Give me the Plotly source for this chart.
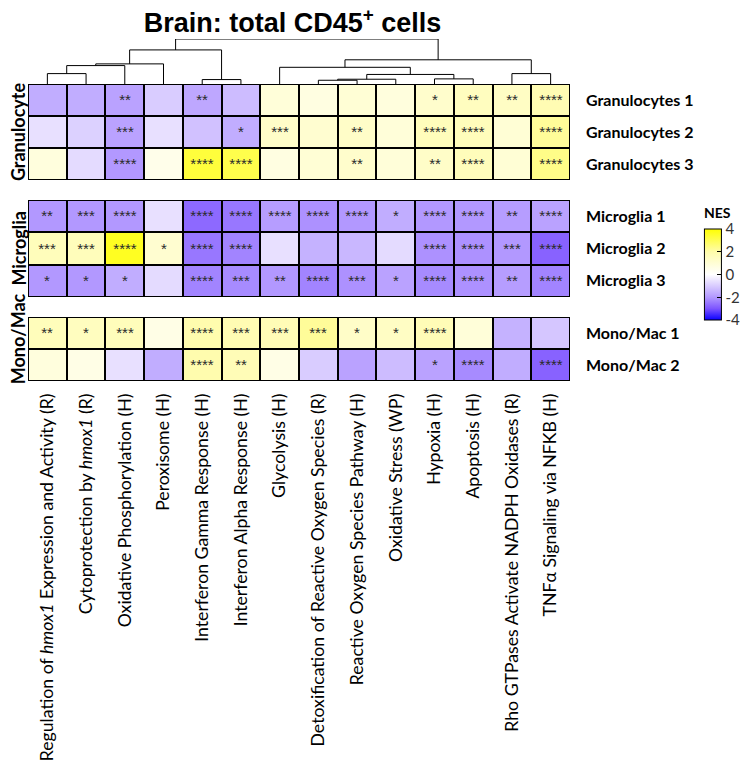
import plotly.graph_objects as go

# ---------------- data ----------------
pathways = [
    "Regulation of <i>hmox1</i> Expression and Activity (R)",
    "Cytoprotection by <i>hmox1</i> (R)",
    "Oxidative Phosphorylation (H)",
    "Peroxisome (H)",
    "Interferon Gamma Response (H)",
    "Interferon Alpha Response (H)",
    "Glycolysis (H)",
    "Detoxification of Reactive Oxygen Species (R)",
    "Reactive Oxygen Species Pathway (H)",
    "Oxidative Stress (WP)",
    "Hypoxia (H)",
    "Apoptosis (H)",
    "Rho GTPases Activate NADPH Oxidases (R)",
    "TNF\u03b1 Signaling via NFKB (H)",
]

group_names = ["Granulocyte", "Microglia", "Mono/Mac"]

granulocyte_rows = ["Granulocytes 1", "Granulocytes 2", "Granulocytes 3"]
granulocyte_nes = [
    [-1.6, -1.6, -1.8, -1.0, -1.7, -1.3, 0.9, 0.7, 1.0, 0.8, 1.2, 1.5, 1.4, 1.8],
    [-0.6, -0.9, -1.8, -0.6, -1.2, -1.6, 1.3, 1.1, 1.3, 0.9, 1.6, 1.6, 1.0, 2.2],
    [0.8, -0.7, -2.0, 0.5, 3.3, 3.1, 0.7, 1.0, 1.2, 0.9, 1.3, 1.6, 1.0, 2.4],
]
granulocyte_sig = [
    ["", "", "**", "", "**", "", "", "", "", "", "*", "**", "**", "****"],
    ["", "", "***", "", "", "*", "***", "", "**", "", "****", "****", "", "****"],
    ["", "", "****", "", "****", "****", "", "", "**", "", "**", "****", "", "****"],
]

microglia_rows = ["Microglia 1", "Microglia 2", "Microglia 3"]
microglia_nes = [
    [-2.0, -2.0, -2.0, -0.6, -2.7, -2.5, -1.9, -2.1, -2.0, -1.6, -2.0, -2.0, -1.9, -1.8],
    [1.6, 1.6, 3.6, 1.1, -2.5, -2.3, -0.6, -1.5, -1.4, -0.7, -2.1, -2.1, -2.0, -2.8],
    [-2.0, -2.0, -1.6, -0.7, -2.3, -2.2, -2.0, -2.3, -2.1, -1.8, -2.2, -2.1, -1.9, -2.3],
]
microglia_sig = [
    ["**", "***", "****", "", "****", "****", "****", "****", "****", "*", "****", "****", "**", "****"],
    ["***", "***", "****", "*", "****", "****", "", "", "", "", "****", "****", "***", "****"],
    ["*", "*", "*", "", "****", "***", "**", "****", "***", "*", "****", "****", "**", "****"],
]

monomac_rows = ["Mono/Mac 1", "Mono/Mac 2"]
monomac_nes = [
    [1.6, 1.5, 1.6, 0.6, 1.9, 1.8, 1.7, 2.2, 1.3, 1.4, 1.7, 0.9, -1.5, -1.1],
    [0.8, 0.6, -0.6, -1.6, 1.9, 1.7, 0.6, -1.0, -1.8, -1.3, -1.8, -2.2, -1.6, -2.8],
]
monomac_sig = [
    ["**", "*", "***", "", "****", "***", "***", "***", "*", "*", "****", "", "", ""],
    ["", "", "", "", "****", "**", "", "", "", "", "*", "****", "", "****"],
]

# dendrogram merges over the 14 columns (leaves 0..13, new clusters 14..)
dendro_merges = [
    (0, 1, 30.5), (14, 2, 54), (15, 3, 59), (4, 5, 13), (16, 17, 100),
    (7, 8, 11), (19, 9, 14), (10, 11, 15), (20, 21, 28), (6, 22, 49),
    (12, 13, 30.5), (23, 24, 71), (18, 25, 132),
]

cbar_ticks = [-4, -2, 0, 2, 4]

# ---------------- layout geometry ----------------
# the page has an 8px body margin; positions below are page pixels
W, H = 750, 771
OFF = 8
GRID_L, GRID_R, AREA_T, AREA_B = 28, 575, 30, 381
ML = GRID_L - OFF
MR = W - (GRID_R - OFF)
MT = AREA_T - OFF
MB = H - (AREA_B - OFF)
PW = GRID_R - GRID_L
PH = AREA_B - AREA_T


def px(x_page):
    return (x_page - GRID_L) / PW


def py(y_page):
    return (AREA_B - y_page) / PH


def ydom(top_page, bot_page):
    return [max(0.0, py(bot_page)), min(1.0, py(top_page))]


colorscale = [
    [0.0, "rgb(10,0,255)"],
    [0.125, "rgb(125,85,255)"],
    [0.25, "rgb(178,152,255)"],
    [0.5, "rgb(255,255,255)"],
    [0.75, "rgb(255,252,170)"],
    [1.0, "rgb(255,255,0)"],
]

fig = go.Figure()

groups = [
    (granulocyte_rows, granulocyte_nes, granulocyte_sig, "y", ydom(84, 180)),
    (microglia_rows, microglia_nes, microglia_sig, "y2", ydom(200, 297)),
    (monomac_rows, monomac_nes, monomac_sig, "y3", ydom(317, 381)),
]

label_font = dict(family="Lato, Carlito, Calibri, sans-serif", size=16, color="black")

for gi, (rows, nes, sig, yname, dom) in enumerate(groups):
    fig.add_trace(go.Heatmap(
        z=nes,
        x=list(range(len(pathways))),
        y=list(range(len(rows))),
        text=sig,
        texttemplate="%{text}",
        textfont=dict(family="Liberation Sans, Arial, sans-serif", size=15, color="#2a2a2a"),
        colorscale=colorscale,
        zmin=-4, zmax=4,
        xgap=2, ygap=2,
        showscale=(gi == 1),
        colorbar=dict(
            tickvals=cbar_ticks,
            ticktext=[str(t) for t in cbar_ticks],
            ticks="inside", ticklen=4, tickcolor="black",
            tickfont=dict(family="Lato, sans-serif", size=15, color="#333"),
            thickness=17, thicknessmode="pixels",
            len=91, lenmode="pixels",
            x=px(752), xanchor="right", xpad=0,
            y=py(274.5), yanchor="middle", ypad=0,
            outlinecolor="black", outlinewidth=1,
        ),
        xaxis="x",
        yaxis=yname,
        hoverinfo="z",
    ))
    axkey = "yaxis" if yname == "y" else "yaxis" + yname[1:]
    fig.layout[axkey] = dict(
        domain=dom,
        range=[len(rows) - 0.5, -0.5],
        tickmode="array",
        tickvals=list(range(len(rows))),
        ticktext=["<b>%s</b>" % r for r in rows],
        side="right",
        anchor="x",
        showgrid=False, zeroline=False, ticks="",
        ticklabelstandoff=15,
        tickfont=label_font,
        fixedrange=True,
    )
    # black backing / outer border
    fig.add_shape(type="rect", xref="x", yref=yname,
                  x0=-0.5, x1=len(pathways) - 0.5, y0=-0.5, y1=len(rows) - 0.5,
                  fillcolor="black", line=dict(color="black", width=3), layer="below")
    # group label on the left
    fig.add_annotation(
        text="<b>%s</b>" % group_names[gi],
        xref="paper", yref="paper",
        x=px(18), y=(dom[0] + dom[1]) / 2 + (0.028 if gi == 2 else 0),
        textangle=-90, showarrow=False,
        font=dict(family="Lato, sans-serif", size=18, color="black"),
        xanchor="center", yanchor="middle",
    )

fig.add_annotation(
    text="<b>NES</b>", xref="paper", yref="paper",
    x=px(724), y=py(212), showarrow=False,
    xanchor="center", yanchor="middle",
    font=dict(family="Lato, sans-serif", size=14, color="black"),
)

# ---------------- dendrogram ----------------
pos = {i: float(i) for i in range(len(pathways))}
hgt = {i: 0.0 for i in range(len(pathways))}
dx, dy = [], []
nid = len(pathways)
for a, b, h in dendro_merges:
    dx += [pos[a], pos[a], pos[b], pos[b], None]
    dy += [hgt[a], h, h, hgt[b], None]
    pos[nid] = (pos[a] + pos[b]) / 2
    hgt[nid] = h
    nid += 1

fig.add_trace(go.Scatter(x=dx, y=dy, mode="lines",
                         line=dict(color="black", width=1),
                         xaxis="x", yaxis="y4", hoverinfo="skip", showlegend=False))
fig.layout["yaxis4"] = dict(domain=ydom(39, 84), range=[0, max(m[2] for m in dendro_merges)],
                            visible=False, anchor="x", fixedrange=True)

fig.update_layout(
    width=W, height=H,
    margin=dict(l=ML, r=MR, t=MT, b=MB),
    paper_bgcolor="white", plot_bgcolor="white",
    showlegend=False,
    xaxis=dict(
        range=[-0.5, len(pathways) - 0.5],
        tickmode="array",
        tickvals=list(range(len(pathways))),
        ticktext=pathways,
        tickangle=-90,
        anchor="y3",
        showgrid=False, zeroline=False, ticks="",
        ticklabelstandoff=8,
        tickfont=dict(family="Lato, Carlito, Calibri, sans-serif", size=17.7, color="black"),
        fixedrange=True,
    ),
    title=dict(
        text="<b>Brain: total CD45<sup>+</sup> cells</b>",
        x=px(295), xref="paper", xanchor="center",
        y=1 - (23 - OFF) / H, yref="container", yanchor="middle",
        font=dict(family="Liberation Sans Narrow, Arial Narrow, Liberation Sans, sans-serif",
                  size=27, color="black"),
    ),
)

fig.write_html("out.html")
